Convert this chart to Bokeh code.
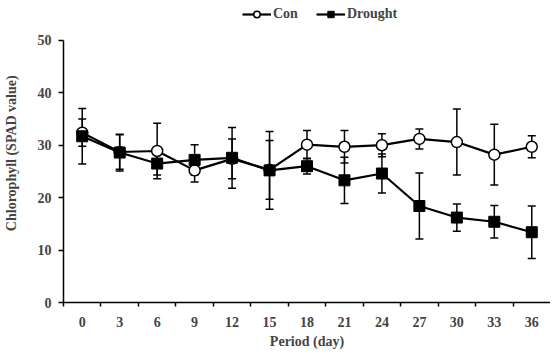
from bokeh.plotting import figure
from bokeh.models import (Range1d, FixedTicker, Whisker, TeeHead, ColumnDataSource,
                          Legend, LegendItem)
from bokeh.embed import file_html
from bokeh.resources import INLINE

days = [0, 3, 6, 9, 12, 15, 18, 21, 24, 27, 30, 33, 36]
con_mean = [32.4, 28.7, 28.9, 25.2, 27.4, 25.3, 30.1, 29.7, 30.0, 31.2, 30.6, 28.2, 29.7]
con_err = [2.6, 3.3, 5.3, 2.2, 3.8, 5.6, 2.7, 3.1, 2.2, 1.9, 6.3, 5.8, 2.1]
dr_mean = [31.7, 28.6, 26.5, 27.2, 27.6, 25.2, 26.0, 23.3, 24.6, 18.4, 16.2, 15.4, 13.4]
dr_err = [5.3, 3.5, 2.2, 2.9, 5.8, 7.4, 1.5, 4.4, 3.7, 6.3, 2.6, 3.1, 5.0]
y_ticks = [0, 10, 20, 30, 40, 50]

FONT = "Liberation Serif"

step = days[1] - days[0]
x_lo = days[0] - step / 2
x_hi = days[-1] + step / 2
y_top = 57.6  # extra room above the axis for the legend

p = figure(width=550, height=352, output_backend="svg", toolbar_location=None,
           x_range=Range1d(x_lo, x_hi), y_range=Range1d(y_ticks[0], y_top),
           min_border_left=59, min_border_right=0, min_border_top=0, min_border_bottom=50)
p.outline_line_color = None
p.xgrid.grid_line_color = None
p.ygrid.grid_line_color = None
p.background_fill_color = "white"

src_c = ColumnDataSource(dict(x=days, y=con_mean,
                              lo=[m - e for m, e in zip(con_mean, con_err)],
                              hi=[m + e for m, e in zip(con_mean, con_err)]))
src_d = ColumnDataSource(dict(x=days, y=dr_mean,
                              lo=[m - e for m, e in zip(dr_mean, dr_err)],
                              hi=[m + e for m, e in zip(dr_mean, dr_err)]))

for src in (src_c, src_d):
    w = Whisker(source=src, base="x", lower="lo", upper="hi", dimension="height",
                line_color="black", line_width=1.5,
                upper_head=TeeHead(size=8, line_color="black", line_width=1.5),
                lower_head=TeeHead(size=8, line_color="black", line_width=1.5))
    p.add_layout(w)

lc = p.line("x", "y", source=src_c, line_color="black", line_width=2.2)
mc = p.scatter("x", "y", source=src_c, marker="circle", size=11,
               fill_color="white", line_color="black", line_width=1.5)
ld = p.line("x", "y", source=src_d, line_color="black", line_width=2.2)
md = p.scatter("x", "y", source=src_d, marker="square", size=11,
               fill_color="black", line_color="black", line_width=1)

legend = Legend(items=[LegendItem(label="Con", renderers=[lc, mc]),
                       LegendItem(label="Drought", renderers=[ld, md])],
                orientation="horizontal", location=(179, 280))
legend.label_text_font = FONT
legend.label_text_font_style = "bold"
legend.label_text_font_size = "14px"
legend.glyph_width = 29
legend.glyph_height = 16
legend.label_height = 16
legend.label_standoff = 2
legend.spacing = 18
legend.border_line_color = None
legend.background_fill_alpha = 0
legend.margin = 0
legend.padding = 0
p.add_layout(legend)

xa = p.xaxis[0]
xa.ticker = FixedTicker(ticks=days,
                        minor_ticks=[x_lo + step * k for k in range(len(days))])
xa.major_tick_line_color = None
xa.major_tick_out = 0
xa.major_tick_in = 0
xa.minor_tick_out = 4
xa.minor_tick_in = 0
xa.minor_tick_line_color = "black"
xa.minor_tick_line_width = 1.5
xa.axis_line_color = "black"
xa.axis_line_width = 1.5
xa.major_label_text_font = FONT
xa.major_label_text_font_style = "bold"
xa.major_label_text_font_size = "14px"
xa.major_label_standoff = 10
xa.axis_label = "Period (day)"
xa.axis_label_text_font = FONT
xa.axis_label_text_font_style = "bold"
xa.axis_label_text_font_size = "14px"
xa.axis_label_standoff = 4

ya = p.yaxis[0]
ya.ticker = FixedTicker(ticks=y_ticks, minor_ticks=[])
ya.bounds = (y_ticks[0], y_ticks[-1])
ya.major_tick_out = 5
ya.major_tick_in = 0
ya.major_tick_line_width = 1.5
ya.axis_line_width = 1.5
ya.minor_tick_line_color = None
ya.major_label_text_font = FONT
ya.major_label_text_font_style = "bold"
ya.major_label_text_font_size = "14px"
ya.major_label_standoff = 7
ya.axis_label = "Chlorophyll  (SPAD value)"
ya.axis_label_text_font = FONT
ya.axis_label_text_font_style = "bold"
ya.axis_label_text_font_size = "14px"
ya.axis_label_standoff = 16

open("out.html", "w").write(file_html(p, INLINE))
